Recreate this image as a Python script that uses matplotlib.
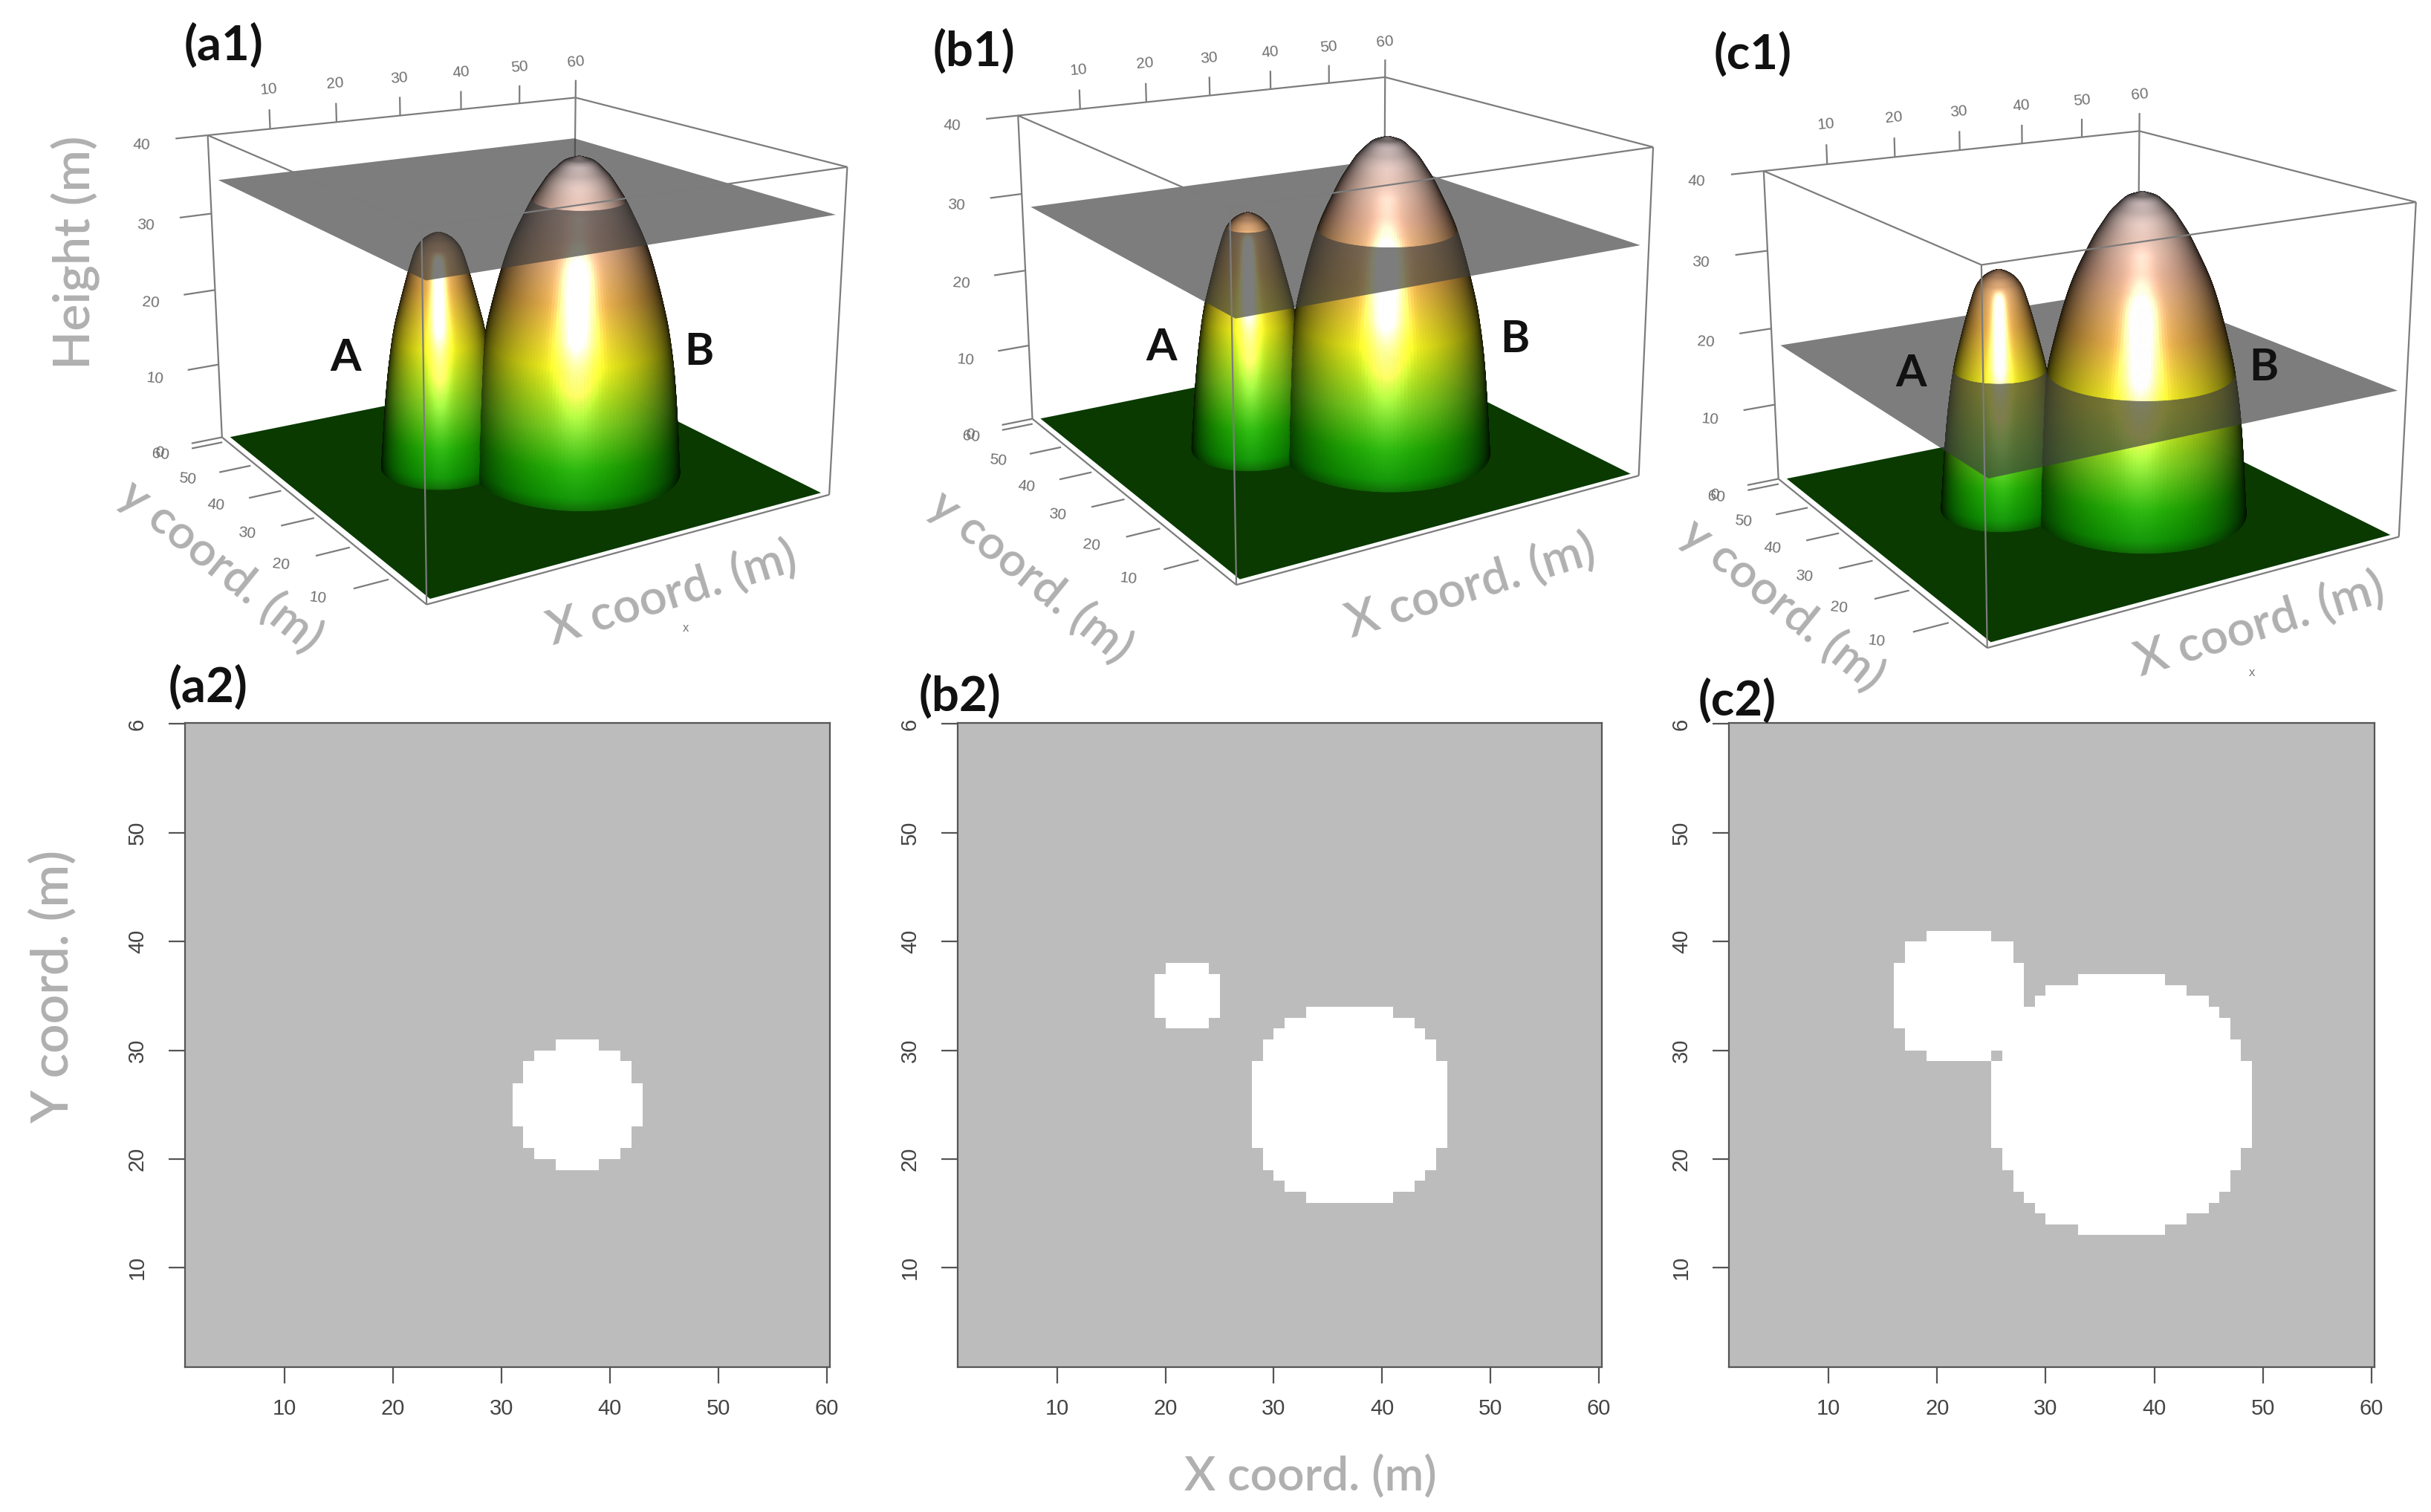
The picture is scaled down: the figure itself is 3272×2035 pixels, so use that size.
import numpy as np
import matplotlib
matplotlib.use('Agg')
import matplotlib.pyplot as plt
from matplotlib.colors import ListedColormap, to_rgb
from mpl_toolkits.mplot3d.art3d import Poly3DCollection, Line3DCollection

W, H = 3273, 2035

# hill profiles: radius from centre (m) -> height (m)
CENTRE_A = [22, 35]
RADIUS_A = [0, 1, 2, 3, 4, 5, 6, 7, 7.6, 7.9]
HEIGHT_A = [30.1, 29.8, 29.2, 28, 25, 21.5, 17.8, 11, 4, 0]
CENTRE_B = [37, 25]
RADIUS_B = [0, 2, 4, 6, 8, 9, 10, 11, 12, 13, 13.5, 13.8]
HEIGHT_B = [39.6, 39, 37.2, 34.3, 30.5, 28.3, 25.3, 21.8, 17.8, 11, 4, 0]

# threshold plane of each panel (m)
PLANE_Z = [34.3, 28.3, 17.8]

# terrain colour by height
RAMP_Z = [0, 1.5, 5, 10, 17, 24, 31, 39]
RAMP_C = ['#0a6400', '#0c8c00', '#1ca400', '#70c418', '#dcdc10', '#d8a040', '#d8a488', '#e2d0d0']
FLOOR_COLOR = '#0a3a00'

# box corners in data units and where they sit in each picture (pixels)
BOX_WORLD = [[1, 60, 40], [60, 60, 40], [60, 1, 40], [1, 1, 40], [1, 1, 0], [60, 1, 0], [1, 60, 0]]
CORNERS_A = [[279, 183], [775, 131], [1140, 225], [568, 305], [574, 814], [1116, 666], [299, 588]]
CORNERS_B = [[1370, 155], [1864, 104], [2225, 198], [1656, 280], [1663, 787], [2206, 640], [1390, 564]]
CORNERS_C = [[2374, 230], [2879, 176], [3252, 273], [2667, 356], [2674, 872], [3229, 722], [2394, 645]]

X_TICKS = [10, 20, 30, 40, 50, 60]
Y_TICKS = [10, 20, 30, 40, 50, 60]
Z_TICKS = [0, 10, 20, 30, 40]

# white cells of the maps: (y from, y to, x from, x to)
CELLS_A = [(30, 31, 35, 39), (29, 30, 33, 41), (27, 29, 32, 42), (23, 27, 31, 43),
           (21, 23, 32, 42), (20, 21, 33, 41), (19, 20, 35, 39)]
CELLS_B = [(37, 38, 20, 24), (33, 37, 19, 25), (32, 33, 20, 24),
           (33, 34, 33, 41), (32, 33, 31, 43), (31, 32, 30, 44), (29, 31, 29, 45),
           (21, 29, 28, 46), (19, 21, 29, 45), (18, 19, 30, 44), (17, 18, 31, 43),
           (16, 17, 33, 41)]
CELLS_C = [(40, 41, 19, 25), (38, 40, 17, 27), (37, 38, 16, 28), (36, 37, 16, 28), (36, 37, 33, 41),
           (35, 36, 16, 28), (35, 36, 30, 43), (34, 35, 16, 28), (34, 35, 29, 45), (33, 34, 16, 46),
           (32, 33, 16, 47), (31, 32, 17, 47), (30, 31, 17, 48), (29, 30, 19, 25), (29, 30, 26, 48),
           (21, 29, 25, 49), (19, 21, 26, 48), (17, 19, 27, 47), (16, 17, 28, 46), (15, 16, 29, 45),
           (14, 15, 30, 43), (13, 14, 33, 41)]
MAP_TICKS = [10, 20, 30, 40, 50, 60]
MAP_YLABELS = ['10', '20', '30', '40', '50', '6']

FONT = 'Lato'
TITLE_GREY = '#b0b0b0'


def fit_camera(corners):
    # 3x4 camera matrix from the box corners
    world = np.array(BOX_WORLD, float) / 60.0
    pix = np.array(corners, float)
    u = pix[:, 0] / 1000.0
    v = (H - pix[:, 1]) / 1000.0
    rows = []
    for (x, y, z), a, b in zip(world, u, v):
        rows.append([x, y, z, 1, 0, 0, 0, 0, -a * x, -a * y, -a * z, -a])
        rows.append([0, 0, 0, 0, x, y, z, 1, -b * x, -b * y, -b * z, -b])
    P = np.linalg.svd(np.array(rows))[2][-1].reshape(3, 4)
    P = np.diag([1000.0, 1000.0, 1.0]) @ P @ np.diag([1 / 60.0, 1 / 60.0, 1 / 60.0, 1.0])
    P = P / (P[2] @ np.array([30, 30, 20, 1.0]))
    null = np.linalg.svd(P)[2][-1]
    return P, null[:3] / null[3]


def make_proj(ax, P):
    def get_proj():
        top = ax.transData.inverted().get_matrix() @ P
        return np.array([top[0], top[1], top[2] - np.array([0, 0, 0, 1.0]), top[2]])
    return get_proj


def to_screen(P, x, y, z):
    u, v, w = P @ np.array([x, y, z, 1.0])
    return u / w, v / w


def smooth_profile(radius, height, width):
    # round off the read profile, then space the rings evenly along the slope
    r = np.linspace(0, radius[-1], 800)
    z = np.interp(r, radius, height)
    half = int(width / (r[1] - r[0]) / 2)
    tail = z[-1] + (z[-1] - z[-2]) * np.arange(1, half + 1)
    pad = np.r_[np.full(half, z[0]), z, tail]
    z = np.convolve(pad, np.ones(2 * half + 1) / (2 * half + 1), 'valid')
    keep = z > 0
    r = np.r_[r[keep], r[keep][-1]]
    z = np.r_[z[keep], 0.0]
    arc = np.r_[0, np.cumsum(np.hypot(np.diff(r), np.diff(z)))]
    even = np.linspace(0, arc[-1], 170)
    return np.interp(even, arc, r), np.interp(even, arc, z)


def hill_quads(centre, prof, other_centre, other_prof, plane, cam):
    r, z = prof
    if plane < z[0]:
        r = np.sort(np.r_[r, np.interp(plane, z[::-1], r[::-1])])
        z = np.interp(r, *prof)
    th = np.linspace(0, 2 * np.pi, 181)
    rr0, tt0 = np.meshgrid(r[:-1], th[:-1], indexing='ij')
    rr1, tt1 = np.meshgrid(r[1:], th[1:], indexing='ij')
    zz0 = np.interp(rr0, r, z)
    zz1 = np.interp(rr1, r, z)
    verts = np.stack([
        np.stack([centre[0] + rr0 * np.cos(tt0), centre[1] + rr0 * np.sin(tt0), zz0], -1),
        np.stack([centre[0] + rr1 * np.cos(tt0), centre[1] + rr1 * np.sin(tt0), zz1], -1),
        np.stack([centre[0] + rr1 * np.cos(tt1), centre[1] + rr1 * np.sin(tt1), zz1], -1),
        np.stack([centre[0] + rr0 * np.cos(tt1), centre[1] + rr0 * np.sin(tt1), zz0], -1),
    ], 2).reshape(-1, 4, 3)
    mid = verts.mean(1)
    # flat normal of each quad, from the profile slope
    dr = (rr1 - rr0).ravel()
    dz = (zz1 - zz0).ravel()
    tm = ((tt0 + tt1) / 2).ravel()
    n = np.stack([-dz * np.cos(tm), -dz * np.sin(tm), dr], -1)
    n /= np.maximum(np.linalg.norm(n, axis=1, keepdims=True), 1e-9)
    view = cam - mid
    view /= np.linalg.norm(view, axis=1, keepdims=True)
    s = (n * view).sum(1)
    # the other hill swallows part of this one
    d = np.hypot(mid[:, 0] - other_centre[0], mid[:, 1] - other_centre[1])
    keep = (s > -0.02) & (np.interp(d, other_prof[0], other_prof[1], right=0) <= mid[:, 2])
    verts, mid, s = verts[keep], mid[keep], np.clip(s[keep], 0, 1)
    ramp = np.array([to_rgb(c) for c in RAMP_C])
    base = np.stack([np.interp(mid[:, 2], RAMP_Z, ramp[:, i]) for i in range(3)], -1)
    light = 0.07 + 1.0 * s ** 1.05
    # the shine is strong high up and fades towards the foot
    spec = (0.95 * s ** 60 + 0.10 * s ** 9) * np.interp(mid[:, 2], [0, 20], [0.3, 1.0])
    col = np.clip(base * light[:, None] + spec[:, None], 0, 1)
    return verts, mid, col


prof_a = smooth_profile(RADIUS_A, HEIGHT_A, 0.8)
prof_b = smooth_profile(RADIUS_B, HEIGHT_B, 1.0)

fig = plt.figure(figsize=(W / 100, H / 100), dpi=100, facecolor='white')


def ftext(x, y, s, **kw):
    kw.setdefault('family', FONT)
    kw.setdefault('ha', 'center')
    kw.setdefault('va', 'center')
    fig.text(x / W, 1 - y / H, s, **kw)


def tick_label(P, x, y, z, s, along):
    # tick labels of the boxes: placed through the camera, tilted with the edge
    u0, v0 = to_screen(P, x, y, z)
    u1, v1 = to_screen(P, x + along[0], y + along[1], z)
    angle = np.degrees(np.arctan2(v1 - v0, u1 - u0))
    fig.text(u0 / W, v0 / H, s, family='Liberation Sans', fontsize=15, color='#707070',
             ha='center', va='center', rotation=angle, rotation_mode='anchor')


# top row: perspective boxes
for k, (corners, left) in enumerate(zip([CORNERS_A, CORNERS_B, CORNERS_C], [170, 1270, 2273])):
    ax = fig.add_axes([left / W, 1 - 1000 / H, 1000 / W, 1000 / H], projection='3d')
    ax.set_axis_off()
    ax.patch.set_visible(False)
    ax.computed_zorder = False
    P, cam = fit_camera(corners)
    ax.get_proj = make_proj(ax, P)
    plane = PLANE_Z[k]

    floor = [[(2, 2, 0), (59.5, 2, 0), (59.5, 59.5, 0), (2, 59.5, 0)]]
    ax.add_collection3d(Poly3DCollection(floor, facecolors=FLOOR_COLOR, edgecolors='none', zorder=2), autolim=False)

    va, ma, ca = hill_quads(CENTRE_A, prof_a, CENTRE_B, prof_b, plane, cam)
    vb, mb, cb = hill_quads(CENTRE_B, prof_b, CENTRE_A, prof_a, plane, cam)
    verts = np.concatenate([va, vb])
    mids = np.concatenate([ma, mb])
    cols = np.concatenate([ca, cb])
    below = mids[:, 2] < plane
    # the camera is above the plane, so the plane splits the drawing order
    ax.add_collection3d(Poly3DCollection(verts[below], facecolors=cols[below], edgecolors=cols[below],
                                         linewidths=0.6, zorder=3), autolim=False)
    sheet = [[(2, 2, plane), (59.5, 2, plane), (59.5, 59.5, plane), (2, 59.5, plane)]]
    ax.add_collection3d(Poly3DCollection(sheet, facecolors=[(0.24, 0.24, 0.24, 0.67)], edgecolors='none', zorder=4),
                        autolim=False)
    ax.add_collection3d(Poly3DCollection(verts[~below], facecolors=cols[~below], edgecolors=cols[~below],
                                         linewidths=0.6, zorder=5), autolim=False)

    box = [[(1, 60, 40), (60, 60, 40)], [(60, 60, 40), (60, 1, 40)], [(60, 1, 40), (1, 1, 40)], [(1, 1, 40), (1, 60, 40)],
           [(1, 60, 0), (1, 60, 40)], [(1, 1, 0), (1, 1, 40)], [(60, 1, 0), (60, 1, 40)],
           [(1, 1, 0), (60, 1, 0)], [(1, 1, 0), (1, 60, 0)]]
    for x in X_TICKS:
        box.append([(x, 60, 40), (x, 60, 42.5)])
        tick_label(P, x, 60, 45, str(x), (1, 0))
    for y in Y_TICKS:
        box.append([(1, y, -0.7), (-3.5, y, -0.7)])
        tick_label(P, -8, y, -0.7, str(y), (1, -1))
    for z in Z_TICKS:
        box.append([(1, 60, z), (-3.5, 60, z)])
        tick_label(P, -8.2, 60, z - 0.4, str(z), (1, -1))
    ax.add_collection3d(Line3DCollection([[(60, 60, 0), (60, 60, 40)]], colors='#7c7c7c', linewidths=1.6, zorder=1),
                        autolim=False)
    ax.add_collection3d(Line3DCollection(box, colors='#7c7c7c', linewidths=1.6, zorder=7), autolim=False)

# bottom row: threshold maps
cmap = ListedColormap(['#bcbcbc', '#ffffff'])
for cells, left, right in zip([CELLS_A, CELLS_B, CELLS_C], [249, 1289, 2327], [1117, 2156, 3196]):
    ax = fig.add_axes([left / W, 1 - 1840 / H, (right - left) / W, (1840 - 973) / H])
    grid = np.zeros((60, 60))
    for y0, y1, x0, x1 in cells:
        grid[y0 - 1:y1 - 1, x0 - 1:x1 - 1] = 1
    edges = np.arange(1, 62)
    ax.set_facecolor('#bcbcbc')
    ax.pcolormesh(edges, edges, grid, cmap=cmap, vmin=0, vmax=1, antialiased=False)
    ax.set_xlim(0.8, 60.3)
    ax.set_ylim(0.87, 60.1)
    ax.set_xticks(MAP_TICKS)
    ax.set_yticks(MAP_TICKS)
    ax.set_yticklabels(MAP_YLABELS, rotation=90, va='center')
    ax.tick_params(axis='x', length=16, width=1.6, color='#555555', labelcolor='#444444', labelsize=21, pad=14)
    ax.tick_params(axis='y', length=16, width=1.6, color='#555555', labelcolor='#444444', labelsize=21, pad=20)
    for lb in ax.get_xticklabels() + ax.get_yticklabels():
        lb.set_family('Liberation Sans')
    for sp in ax.spines.values():
        sp.set_linewidth(1.6)
        sp.set_color('#555555')

# panel letters
for s, x, y in [('(a1)', 301, 61), ('(b1)', 1311, 69), ('(c1)', 2359, 73),
                ('(a2)', 280, 925), ('(b2)', 1292, 937), ('(c2)', 2338, 943)]:
    ftext(x, y, s, fontsize=47, fontweight='bold', color='#111111')
for s, x, y in [('A', 465, 482), ('B', 941, 474), ('A', 1563, 468), ('B', 2039, 457),
                ('A', 2572, 503), ('B', 3047, 495)]:
    ftext(x, y, s, fontsize=43, fontweight='bold', color='#111111', zorder=20)

# axis titles
ftext(102, 340, 'Height (m)', fontsize=49, color=TITLE_GREY, rotation=90, fontweight='semibold')
ftext(71, 1328, 'Y coord. (m)', fontsize=50, color=TITLE_GREY, rotation=90, fontweight='semibold')
ftext(1764, 1987, 'X coord. (m)', fontsize=46, color=TITLE_GREY, fontweight='semibold')
for x, y in [(298, 762), (1388, 776), (2400, 814)]:
    ftext(x, y, 'y coord. (m)', fontsize=46, color=TITLE_GREY, rotation=-39, fontweight='semibold')
for x, y in [(904, 799), (1979, 789), (3041, 841)]:
    ftext(x, y, 'X coord. (m)', fontsize=47, color=TITLE_GREY, rotation=17, fontweight='semibold')
for x, y in [(923, 845), (3031, 906)]:
    ftext(x, y, 'x', fontsize=12, color='#777777', family='Liberation Sans')

fig.savefig('out.png', dpi=100)
